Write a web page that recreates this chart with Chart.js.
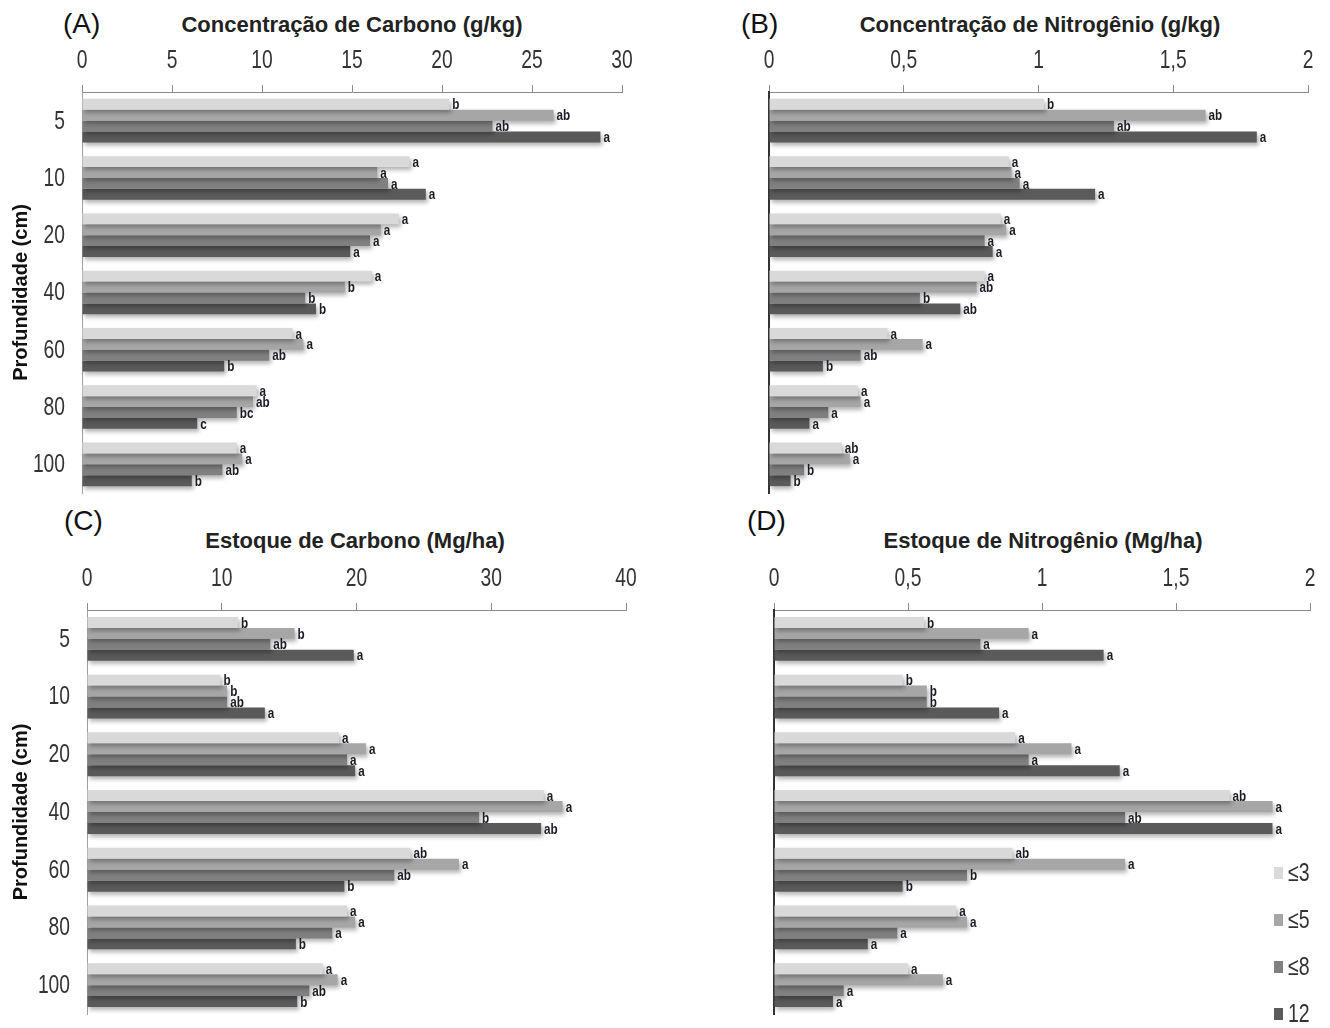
<!DOCTYPE html>
<html>
<head>
<meta charset="utf-8">
<script src="https://cdn.jsdelivr.net/npm/chart.js@4.4.1/dist/chart.umd.min.js"></script>
<style>
  body { margin: 0; background: #fff; width: 1330px; height: 1028px; position: relative; overflow: hidden;
         font-family: 'Liberation Sans', Arial, sans-serif; }
  .panel { position: absolute; }
  .tag { position: absolute; font-size: 28px; color: #111; line-height: 1; }
  .ttl { position: absolute; font-weight: bold; font-size: 22px; color: #222; line-height: 1;
         transform: translateX(-50%); white-space: nowrap; }
  #legend { position: absolute; left: 1274px; top: 860px; }
  #legend div { height: 47px; display: flex; align-items: flex-start; font-size: 25px; color: #333; line-height: 1; }
  #legend span.sw { display: inline-block; width: 9px; height: 12px; margin: 7px 5px 0 0; }
  #legend span.tx { display: inline-block; transform: scaleX(0.78); transform-origin: left center; }
</style>
</head>
<body>

<div class="tag" style="left:63px;top:10px">(A)</div>
<div class="ttl" style="left:352px;top:14px">Concentração de Carbono (g/kg)</div>
<div class="tag" style="left:741px;top:10px">(B)</div>
<div class="ttl" style="left:1040px;top:14px">Concentração de Nitrogênio (g/kg)</div>
<div class="tag" style="left:64px;top:507px">(C)</div>
<div class="ttl" style="left:355px;top:530px">Estoque de Carbono (Mg/ha)</div>
<div class="tag" style="left:747px;top:507px">(D)</div>
<div class="ttl" style="left:1043px;top:530px">Estoque de Nitrogênio (Mg/ha)</div>

<div class="panel" style="left:0;top:40px;width:645px;height:460px"><canvas id="chartA"></canvas></div>
<div class="panel" style="left:680px;top:40px;width:650px;height:460px"><canvas id="chartB"></canvas></div>
<div class="panel" style="left:0;top:560px;width:650px;height:460px"><canvas id="chartC"></canvas></div>
<div class="panel" style="left:680px;top:560px;width:650px;height:460px"><canvas id="chartD"></canvas></div>

<div id="legend"></div>

<script>
// depth classes (cm) and time classes
const depths = ['5', '10', '20', '40', '60', '80', '100'];
const classes = ['≤3', '≤5', '≤8', '12'];
const shades = ['#d9d9d9', '#a6a6a6', '#808080', '#5a5a5a'];

// (A) carbon concentration, g/kg - one row per class
const carbonConc = [
  [20.4, 18.2, 17.6, 16.1, 11.7, 9.7, 8.6],
  [26.2, 16.4, 16.6, 14.6, 12.3, 9.5, 8.9],
  [22.8, 17.0, 16.0, 12.4, 10.4, 8.6, 7.8],
  [28.8, 19.1, 14.9, 13.0, 7.9, 6.4, 6.1]
];
const carbonConcLetters = [
  ['b', 'a', 'a', 'a', 'a', 'a', 'a'],
  ['ab', 'a', 'a', 'b', 'a', 'ab', 'a'],
  ['ab', 'a', 'a', 'b', 'ab', 'bc', 'ab'],
  ['a', 'a', 'a', 'b', 'b', 'c', 'b']
];
const carbonConcTicks = ['0', '5', '10', '15', '20', '25', '30'];

// (B) nitrogen concentration, g/kg
const nitroConc = [
  [1.02, 0.89, 0.86, 0.80, 0.44, 0.33, 0.27],
  [1.62, 0.90, 0.88, 0.77, 0.57, 0.34, 0.30],
  [1.28, 0.93, 0.80, 0.56, 0.34, 0.22, 0.13],
  [1.81, 1.21, 0.83, 0.71, 0.20, 0.15, 0.08]
];
const nitroConcLetters = [
  ['b', 'a', 'a', 'a', 'a', 'a', 'ab'],
  ['ab', 'a', 'a', 'ab', 'a', 'a', 'a'],
  ['ab', 'a', 'a', 'b', 'ab', 'a', 'b'],
  ['a', 'a', 'a', 'ab', 'b', 'a', 'b']
];

// (C) carbon stock, Mg/ha
const carbonStock = [
  [11.2, 9.9, 18.7, 33.9, 24.0, 19.3, 17.5],
  [15.4, 10.4, 20.7, 35.3, 27.6, 19.9, 18.6],
  [13.6, 10.4, 19.3, 29.1, 22.8, 18.2, 16.5],
  [19.8, 13.2, 19.9, 33.7, 19.1, 15.5, 15.6]
];
const carbonStockLetters = [
  ['b', 'b', 'a', 'a', 'ab', 'a', 'a'],
  ['b', 'b', 'a', 'a', 'a', 'a', 'a'],
  ['ab', 'ab', 'a', 'b', 'ab', 'a', 'ab'],
  ['a', 'a', 'a', 'ab', 'b', 'b', 'b']
];
const carbonStockTicks = ['0', '10', '20', '30', '40'];

// (D) nitrogen stock, Mg/ha
const nitroStock = [
  [0.56, 0.48, 0.90, 1.70, 0.89, 0.68, 0.50],
  [0.95, 0.57, 1.11, 1.86, 1.31, 0.72, 0.63],
  [0.77, 0.57, 0.95, 1.31, 0.72, 0.46, 0.26],
  [1.23, 0.84, 1.29, 1.86, 0.48, 0.35, 0.22]
];
const nitroStockLetters = [
  ['b', 'b', 'a', 'ab', 'ab', 'a', 'a'],
  ['a', 'b', 'a', 'a', 'a', 'a', 'a'],
  ['a', 'b', 'a', 'ab', 'b', 'a', 'a'],
  ['a', 'a', 'a', 'a', 'b', 'a', 'a']
];
const nitroTicks = ['0', '0,5', '1', '1,5', '2'];

const sans = "'Liberation Sans', Arial, sans-serif";

// no narrow font installed, so squeeze Liberation Sans horizontally
function narrowText(c, text, x, y, align, sx) {
  c.save();
  c.translate(x, y);
  c.scale(sx, 1);
  c.textAlign = align;
  c.fillText(text, 0, 0);
  c.restore();
}

// soft drop shadow under bars, significance letters, narrow axis labels
const barDecor = {
  id: 'barDecor',
  beforeDatasetsDraw(chart) {
    const c = chart.ctx;
    c.save();
    c.shadowColor = 'rgba(0,0,0,0.3)';
    c.shadowBlur = 4;
    c.shadowOffsetX = 2;
    c.shadowOffsetY = 3;
  },
  afterDatasetsDraw(chart) {
    const c = chart.ctx;
    c.restore();
    const opt = chart.options.plugins.barDecor;
    const area = chart.chartArea;
    c.save();
    c.textBaseline = 'middle';
    // letters at the bar ends
    c.font = 'bold 15px ' + sans;
    c.fillStyle = '#1b1b24';
    chart.data.datasets.forEach((ds, i) => {
      chart.getDatasetMeta(i).data.forEach((bar, j) => {
        narrowText(c, opt.letters[i][j], bar.x + 3, bar.y + 1, 'left', 0.78);
      });
    });
    // value axis labels on top
    c.font = '25px ' + sans;
    c.fillStyle = '#333';
    const xs = chart.scales.x;
    xs.ticks.forEach((t, i) => {
      narrowText(c, opt.ticks[i], xs.getPixelForValue(t.value), area.top - 31, 'center', 0.77);
    });
    // depth labels
    if (opt.cats) {
      const ys = chart.scales.y;
      depths.forEach((d, i) => {
        narrowText(c, d, area.left - 17, ys.getPixelForValue(i) + 1, 'right', 0.77);
      });
    }
    c.restore();
  }
};

function makePanel(id, values, letters, ticks, max, step, o) {
  const ctx = document.getElementById(id);
  return new Chart(ctx, {
    type: 'bar',
    data: {
      labels: depths,
      datasets: classes.map((name, i) => ({
        label: name,
        data: values[i],
        backgroundColor: shades[i],
        borderWidth: 0,
        categoryPercentage: 0.76,
        barPercentage: 1.0
      }))
    },
    options: {
      responsive: true,
      maintainAspectRatio: false,
      animation: false,
      indexAxis: 'y',
      layout: { padding: { right: o.padR, bottom: o.padB, top: 0, left: 0 } },
      scales: {
        x: {
          position: 'top',
          min: 0, max: max,
          afterFit: s => { s.height = o.xh; },
          grid: { drawOnChartArea: false, drawTicks: true, tickLength: 7, color: '#8a8a8a' },
          border: { display: true, color: '#8a8a8a', width: 1 },
          ticks: { stepSize: step, color: 'rgba(0,0,0,0)', maxRotation: 0, font: { size: 18 } }
        },
        y: {
          afterFit: s => { s.width = o.yw; },
          grid: { display: false, drawTicks: false },
          border: { display: true, color: o.axisColor, width: o.axisWidth },
          ticks: { display: false },
          title: {
            display: o.cats, text: 'Profundidade (cm)', color: '#111',
            font: { family: sans, size: 20, weight: 'bold' },
            padding: { top: 9, bottom: 0 }
          }
        }
      },
      plugins: {
        legend: { display: false },
        tooltip: { enabled: false },
        barDecor: { letters: letters, ticks: ticks, cats: o.cats }
      }
    },
    plugins: [barDecor]
  });
}

makePanel('chartA', carbonConc, carbonConcLetters, carbonConcTicks, 30, 5,
  { xh: 52, yw: 82, padR: 23, padB: 7, cats: true, axisColor: '#a0a0a0', axisWidth: 1 });
makePanel('chartB', nitroConc, nitroConcLetters, nitroTicks, 2, 0.5,
  { xh: 52, yw: 89, padR: 22, padB: 7, cats: false, axisColor: '#333', axisWidth: 2 });
makePanel('chartC', carbonStock, carbonStockLetters, carbonStockTicks, 40, 10,
  { xh: 50, yw: 87, padR: 24, padB: 6, cats: true, axisColor: '#a0a0a0', axisWidth: 1 });
makePanel('chartD', nitroStock, nitroStockLetters, nitroTicks, 2, 0.5,
  { xh: 50, yw: 94, padR: 20, padB: 6, cats: false, axisColor: '#333', axisWidth: 2 });

// legend built from the class names and shades
const leg = document.getElementById('legend');
classes.forEach((name, i) => {
  const row = document.createElement('div');
  row.innerHTML = '<span class="sw" style="background:' + shades[i] + '"></span><span class="tx">' + name + '</span>';
  leg.appendChild(row);
});
</script>
</body>
</html>
